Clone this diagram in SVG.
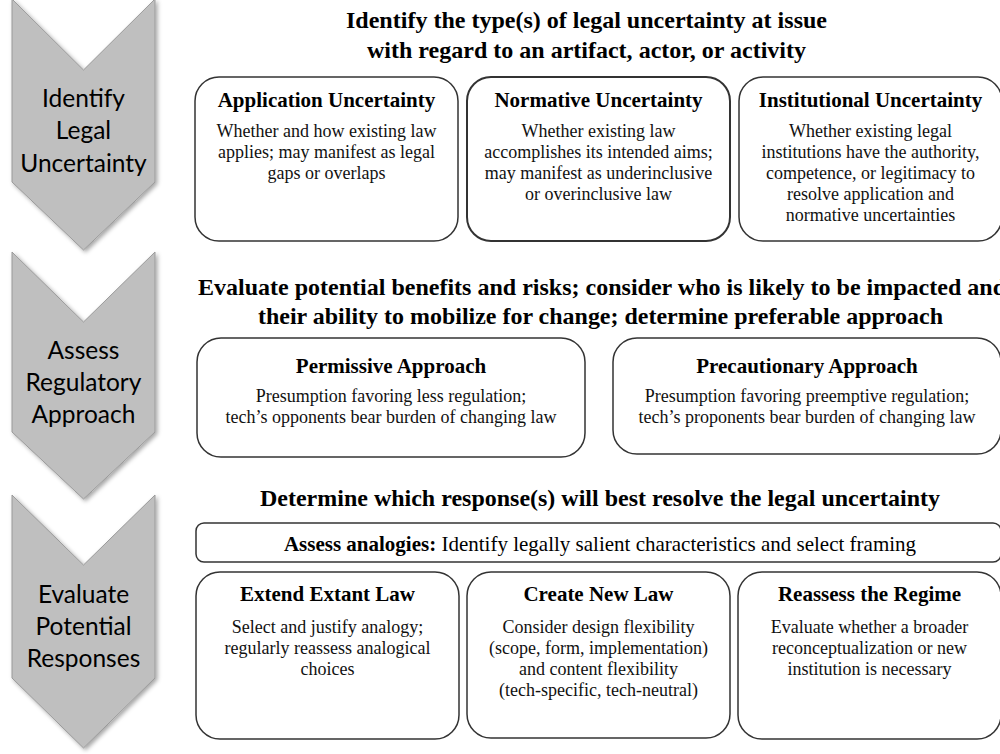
<svg xmlns="http://www.w3.org/2000/svg" width="1000" height="754" viewBox="0 0 1000 754">
<defs>
<filter id="sh" x="-20%" y="-20%" width="140%" height="140%">
<feDropShadow dx="2" dy="2" stdDeviation="2" flood-color="#000" flood-opacity="0.35"/>
</filter>
</defs>
<style>
.chev{fill:#bfbfbf;stroke:#9a9a9a;stroke-width:1;filter:url(#sh)}
.ct{font-family:Lato,"Open Sans",sans-serif;font-size:24.5px;fill:#000;text-anchor:middle}
.box{fill:#fff;stroke:#333;stroke-width:1.5}
.hd{font-family:"Liberation Serif","Times New Roman",serif;font-weight:bold;font-size:24px;fill:#000}
.tt{font-family:"Liberation Serif","Times New Roman",serif;font-weight:bold;font-size:21px;fill:#000;text-anchor:middle}
.bd{font-family:"Liberation Serif","Times New Roman",serif;font-size:18px;fill:#111;text-anchor:middle}
.an{font-family:"Liberation Serif","Times New Roman",serif;font-size:21px;fill:#000;text-anchor:middle}
</style>
<rect width="1000" height="754" fill="#fff"/>

<g id="step1">
<path class="chev" d="M12,-1 L83.5,70 L155,-1 L155,182 L83.5,250 L12,182 Z"/>
<text class="ct" x="83.5" y="107">Identify</text>
<text class="ct" x="83.5" y="139">Legal</text>
<text class="ct" x="83.5" y="172">Uncertainty</text>
</g>
<g id="step2">
<path class="chev" d="M12,252 L83.5,322 L155,252 L155,432 L83.5,499 L12,432 Z"/>
<text class="ct" x="83.5" y="359">Assess</text>
<text class="ct" x="83.5" y="391">Regulatory</text>
<text class="ct" x="83.5" y="423">Approach</text>
</g>
<g id="step3">
<path class="chev" d="M12,495 L83.5,565 L155,495 L155,678 L83.5,748 L12,678 Z"/>
<text class="ct" x="83.5" y="603">Evaluate</text>
<text class="ct" x="83.5" y="635">Potential</text>
<text class="ct" x="83.5" y="667">Responses</text>
</g>

<g id="heading1">
<text class="hd" x="346" y="28" textLength="481" lengthAdjust="spacingAndGlyphs">Identify the type(s) of legal uncertainty at issue</text>
<text class="hd" x="367" y="58" textLength="439" lengthAdjust="spacingAndGlyphs">with regard to an artifact, actor, or activity</text>
</g>

<g id="application">
<rect class="box" x="195" y="77" width="263" height="164" rx="24"/>
<text class="tt" x="326.5" y="107">Application Uncertainty</text>
<text class="bd" x="326.5" y="137">Whether and how existing law</text>
<text class="bd" x="326.5" y="158">applies; may manifest as legal</text>
<text class="bd" x="326.5" y="179">gaps or overlaps</text>
</g>
<g id="normative">
<rect class="box" x="467" y="77" width="263" height="164" rx="24" style="stroke-width:2"/>
<text class="tt" x="598.5" y="107">Normative Uncertainty</text>
<text class="bd" x="598.5" y="137">Whether existing law</text>
<text class="bd" x="598.5" y="158">accomplishes its intended aims;</text>
<text class="bd" x="598.5" y="179">may manifest as underinclusive</text>
<text class="bd" x="598.5" y="200">or overinclusive law</text>
</g>
<g id="institutional">
<rect class="box" x="739" y="77" width="263" height="164" rx="24"/>
<text class="tt" x="870.5" y="107">Institutional Uncertainty</text>
<text class="bd" x="870.5" y="137">Whether existing legal</text>
<text class="bd" x="870.5" y="158">institutions have the authority,</text>
<text class="bd" x="870.5" y="179">competence, or legitimacy to</text>
<text class="bd" x="870.5" y="200">resolve application and</text>
<text class="bd" x="870.5" y="221">normative uncertainties</text>
</g>

<g id="heading2">
<text class="hd" x="198" y="295" textLength="808" lengthAdjust="spacingAndGlyphs">Evaluate potential benefits and risks; consider who is likely to be impacted and</text>
<text class="hd" x="258" y="324" textLength="685" lengthAdjust="spacingAndGlyphs">their ability to mobilize for change; determine preferable approach</text>
</g>

<g id="permissive">
<rect class="box" x="197" y="338" width="388" height="119" rx="24"/>
<text class="tt" x="391" y="373">Permissive Approach</text>
<text class="bd" x="391" y="402">Presumption favoring less regulation;</text>
<text class="bd" x="391" y="423">tech’s opponents bear burden of changing law</text>
</g>
<g id="precautionary">
<rect class="box" x="613" y="338" width="388" height="116" rx="24"/>
<text class="tt" x="807" y="373">Precautionary Approach</text>
<text class="bd" x="807" y="402">Presumption favoring preemptive regulation;</text>
<text class="bd" x="807" y="423">tech’s proponents bear burden of changing law</text>
</g>

<g id="heading3">
<text class="hd" x="260" y="506" textLength="680" lengthAdjust="spacingAndGlyphs">Determine which response(s) will best resolve the legal uncertainty</text>
</g>

<g id="analogies">
<rect class="box" x="196" y="523" width="805" height="39" rx="8"/>
<text class="an" x="600" y="551"><tspan font-weight="bold">Assess analogies:</tspan> Identify legally salient characteristics and select framing</text>
</g>

<g id="extend">
<rect class="box" x="196" y="572" width="263" height="167" rx="24"/>
<text class="tt" x="327.5" y="601">Extend Extant Law</text>
<text class="bd" x="327.5" y="633">Select and justify analogy;</text>
<text class="bd" x="327.5" y="654">regularly reassess analogical</text>
<text class="bd" x="327.5" y="675">choices</text>
</g>
<g id="create">
<rect class="box" x="467" y="572" width="263" height="166" rx="24"/>
<text class="tt" x="598.5" y="601">Create New Law</text>
<text class="bd" x="598.5" y="633">Consider design flexibility</text>
<text class="bd" x="598.5" y="654">(scope, form, implementation)</text>
<text class="bd" x="598.5" y="675">and content flexibility</text>
<text class="bd" x="598.5" y="696">(tech-specific, tech-neutral)</text>
</g>
<g id="reassess">
<rect class="box" x="738" y="572" width="263" height="167" rx="24"/>
<text class="tt" x="869.5" y="601">Reassess the Regime</text>
<text class="bd" x="869.5" y="633">Evaluate whether a broader</text>
<text class="bd" x="869.5" y="654">reconceptualization or new</text>
<text class="bd" x="869.5" y="675">institution is necessary</text>
</g>

<g id="connectors"></g>
</svg>
